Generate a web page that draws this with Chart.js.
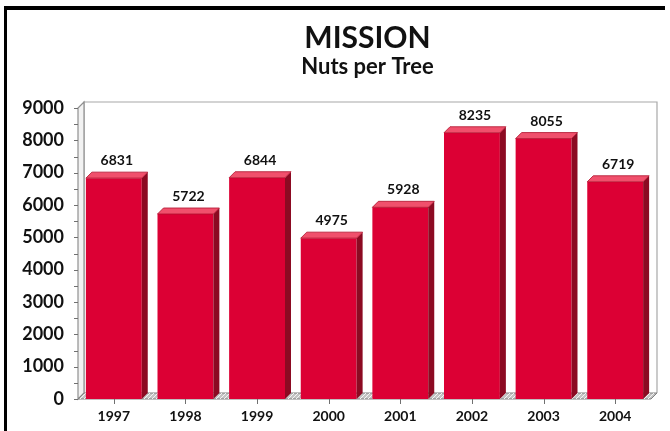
<!DOCTYPE html>
<html>
<head>
<meta charset="utf-8">
<script src="https://cdn.jsdelivr.net/npm/chart.js@4"></script>
<style>
  html, body { margin: 0; padding: 0; background: #fff; }
  #wrap { width: 670px; height: 431px; }
</style>
</head>
<body>
<div id="wrap"><canvas id="nuts" width="670" height="431"></canvas></div>
<script>
// chart data
const years = ['1997', '1998', '1999', '2000', '2001', '2002', '2003', '2004'];
const nutsPerTree = [6831, 5722, 6844, 4975, 5928, 8235, 8055, 6719];
const titleText = 'MISSION';
const subtitleText = 'Nuts per Tree';
const yMax = 9000;
const yStep = 1000;
const yMinorStep = 500;

const FONT = 'Lato, "Open Sans", sans-serif';
const DEPTH = 6;

// walls, floor, ticks, 3d faces, labels
const box3d = {
  id: 'box3d',
  beforeDraw(chart) {
    const ctx = chart.ctx;
    ctx.save();
    ctx.fillStyle = '#fff';
    ctx.fillRect(0, 0, chart.width, chart.height);
    ctx.restore();
  },
  beforeDatasetsDraw(chart) {
    const ctx = chart.ctx;
    const a = chart.chartArea;
    const y = chart.scales.y;
    const x = chart.scales.x;
    const d = DEPTH;
    ctx.save();
    // back wall
    ctx.strokeStyle = '#a8a8a8';
    ctx.lineWidth = 1.2;
    ctx.beginPath();
    ctx.moveTo(a.left + d, a.bottom - d);
    ctx.lineTo(a.left + d, a.top - d);
    ctx.lineTo(a.right + d, a.top - d);
    ctx.lineTo(a.right + d, a.bottom - d);
    ctx.stroke();
    // left wall
    ctx.fillStyle = '#f2f2f2';
    ctx.beginPath();
    ctx.moveTo(a.left, a.bottom);
    ctx.lineTo(a.left, a.top);
    ctx.lineTo(a.left + d, a.top - d);
    ctx.lineTo(a.left + d, a.bottom - d);
    ctx.closePath();
    ctx.fill();
    ctx.strokeStyle = '#909090';
    ctx.stroke();
    // floor
    ctx.fillStyle = '#c4c4c4';
    ctx.beginPath();
    ctx.moveTo(a.left, a.bottom);
    ctx.lineTo(a.left + d, a.bottom - d);
    ctx.lineTo(a.right + d, a.bottom - d);
    ctx.lineTo(a.right, a.bottom);
    ctx.closePath();
    ctx.fill();
    ctx.strokeStyle = '#808080';
    ctx.lineWidth = 1;
    ctx.stroke();
    ctx.save();
    ctx.clip();
    ctx.strokeStyle = '#f4f4f4';
    ctx.beginPath();
    for (let px = a.left - 10; px < a.right + 10; px += 4) {
      ctx.moveTo(px, a.bottom);
      ctx.lineTo(px + d, a.bottom - d);
    }
    ctx.stroke();
    ctx.restore();
    // y ticks, major and minor
    ctx.strokeStyle = '#707070';
    ctx.lineWidth = 1;
    ctx.beginPath();
    for (let v = 0; v <= yMax; v += yMinorStep) {
      const py = Math.round(y.getPixelForValue(v)) + 0.5;
      ctx.moveTo(a.left - 4, py);
      ctx.lineTo(a.left, py);
    }
    // x ticks under each category
    years.forEach((yr, i) => {
      const px = Math.round(x.getPixelForValue(i)) + 0.5;
      ctx.moveTo(px, a.bottom);
      ctx.lineTo(px, a.bottom + 5);
    });
    ctx.stroke();
    ctx.restore();
  },
  afterDatasetsDraw(chart) {
    const ctx = chart.ctx;
    const d = DEPTH;
    const meta = chart.getDatasetMeta(0);
    ctx.save();
    meta.data.forEach((bar, i) => {
      const p = bar.getProps(['x', 'y', 'base', 'width'], true);
      const l = p.x - p.width / 2;
      const r = p.x + p.width / 2;
      // side
      ctx.fillStyle = '#8c0a22';
      ctx.beginPath();
      ctx.moveTo(r, p.y);
      ctx.lineTo(r + d, p.y - d);
      ctx.lineTo(r + d, p.base - d);
      ctx.lineTo(r, p.base);
      ctx.closePath();
      ctx.fill();
      // top
      ctx.fillStyle = '#f0506c';
      ctx.beginPath();
      ctx.moveTo(l, p.y);
      ctx.lineTo(l + d, p.y - d);
      ctx.lineTo(r + d, p.y - d);
      ctx.lineTo(r, p.y);
      ctx.closePath();
      ctx.fill();
      ctx.strokeStyle = '#b0102c';
      ctx.lineWidth = 0.8;
      ctx.stroke();
      // value
      ctx.fillStyle = '#111';
      ctx.font = 'bold 14px ' + FONT;
      ctx.textAlign = 'center';
      ctx.textBaseline = 'alphabetic';
      ctx.fillText(String(nutsPerTree[i]), p.x + d / 2, p.y - d - 7);
    });
    ctx.restore();
  },
  afterDraw(chart) {
    const ctx = chart.ctx;
    const a = chart.chartArea;
    const cx = (a.left + a.right) / 2 + 3;
    ctx.save();
    ctx.fillStyle = '#111';
    ctx.textAlign = 'center';
    ctx.textBaseline = 'alphabetic';
    ctx.font = 'bold 30px ' + FONT;
    ctx.fillText(titleText, cx, 48);
    ctx.font = 'bold 22px ' + FONT;
    ctx.fillText(subtitleText, cx, 74);
    // frame
    ctx.fillStyle = '#000';
    ctx.fillRect(4, 6, 661, 4);
    ctx.fillRect(4, 6, 3, chart.height - 6);
    ctx.restore();
  }
};

const chart = new Chart(document.getElementById('nuts').getContext('2d'), {
  type: 'bar',
  data: {
    labels: years,
    datasets: [{
      data: nutsPerTree,
      backgroundColor: '#dc0034',
      borderWidth: 0,
      barPercentage: 0.78,
      categoryPercentage: 1
    }]
  },
  options: {
    responsive: false,
    animation: false,
    events: [],
    layout: { padding: { top: 108, right: 19, left: 0, bottom: 0 } },
    plugins: {
      legend: { display: false },
      tooltip: { enabled: false }
    },
    scales: {
      x: {
        grid: { display: false, drawTicks: false },
        border: { display: false },
        ticks: {
          color: '#111',
          padding: 9,
          font: { family: FONT, size: 14, weight: 'bold' },
          maxRotation: 0
        },
        afterFit(scale) { scale.height = 32; }
      },
      y: {
        min: 0,
        max: yMax,
        grid: { display: false, drawTicks: false },
        border: { display: false },
        ticks: {
          stepSize: yStep,
          color: '#111',
          padding: 14,
          font: { family: FONT, size: 18, weight: 'bold' },
          callback: (v) => String(v)
        },
        afterFit(scale) { scale.width = 78; }
      }
    }
  },
  plugins: [box3d]
});
</script>
</body>
</html>
